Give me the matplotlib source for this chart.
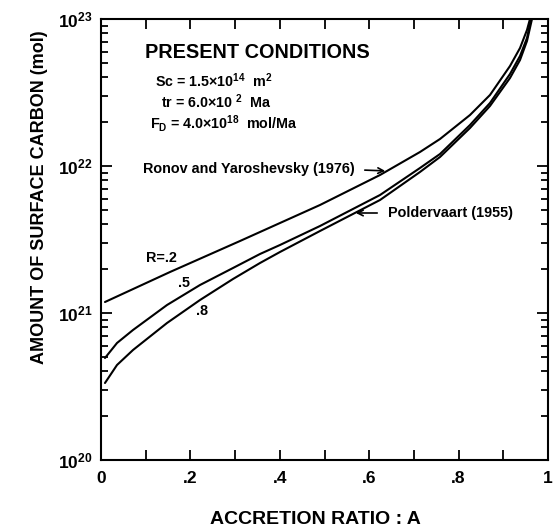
import matplotlib
matplotlib.use("Agg")
import matplotlib.pyplot as plt
from matplotlib.ticker import FixedLocator, FixedFormatter, LogLocator, NullFormatter
import numpy as np

plt.rcParams['font.family'] = ['Liberation Sans', 'DejaVu Sans']
plt.rcParams['font.weight'] = 'bold'
plt.rcParams['mathtext.fontset'] = 'custom'
plt.rcParams['mathtext.rm'] = 'Liberation Sans:bold'
plt.rcParams['mathtext.bf'] = 'Liberation Sans:bold'
plt.rcParams['mathtext.it'] = 'Liberation Sans:bold'
plt.rcParams['mathtext.default'] = 'bf'

# Accretion ratio A (x) and log10 of surface carbon in mol (y)
x_r02 = [0.0089, 0.1544, 0.3110, 0.4004, 0.4899, 0.6242, 0.7136, 0.7584, 0.8255, 0.8702, 0.9150, 0.9374, 0.9530, 0.9597]
log_r02 = [21.0748, 21.2789, 21.4898, 21.6122, 21.7347, 21.9388, 22.0952, 22.1837, 22.3469, 22.4830, 22.6803, 22.8027, 22.9252, 23.0]

x_r05 = [0.0089, 0.0358, 0.0716, 0.1477, 0.2215, 0.2953, 0.3557, 0.4004, 0.4899, 0.6242, 0.7136, 0.7584, 0.8255, 0.8702, 0.9150, 0.9374, 0.9530, 0.9620]
log_r05 = [20.6939, 20.7959, 20.8844, 21.0544, 21.1905, 21.3061, 21.4014, 21.4626, 21.5918, 21.8027, 21.9864, 22.0816, 22.2789, 22.4286, 22.6259, 22.7483, 22.8707, 23.0]

x_r08 = [0.0089, 0.0358, 0.0716, 0.1477, 0.2215, 0.2953, 0.3557, 0.4004, 0.4899, 0.6242, 0.7136, 0.7584, 0.8255, 0.8702, 0.9150, 0.9374, 0.9530, 0.9642]
log_r08 = [20.5238, 20.6463, 20.7483, 20.9320, 21.0884, 21.2313, 21.3401, 21.4150, 21.5578, 21.7687, 21.9592, 22.0612, 22.2585, 22.4082, 22.5986, 22.7211, 22.8503, 23.0]

xticks = [0, 0.2, 0.4, 0.6, 0.8, 1.0]
xticklabels = ['0', '.2', '.4', '.6', '.8', '1']
yticks = [1e20, 1e21, 1e22, 1e23]
yticklabels = [r'$10^{20}$', r'$10^{21}$', r'$10^{22}$', r'$10^{23}$']

fig = plt.figure(figsize=(5.59, 5.30), dpi=100)
ax = fig.add_axes([101/559, 1-460/530, 447/559, 441/530])

for xs, ls in [(x_r02, log_r02), (x_r05, log_r05), (x_r08, log_r08)]:
    ax.plot(xs, 10**np.array(ls), color='black', lw=1.5,
            solid_joinstyle='round', solid_capstyle='round')

ax.set_yscale('log')
ax.set_xlim(0, 1)
ax.set_ylim(1e20, 1e23)

ax.xaxis.set_major_locator(FixedLocator(xticks))
ax.xaxis.set_major_formatter(FixedFormatter(xticklabels))
ax.xaxis.set_minor_locator(FixedLocator([0.1, 0.3, 0.5, 0.7, 0.9]))
ax.yaxis.set_major_locator(FixedLocator(yticks))
ax.yaxis.set_major_formatter(FixedFormatter(yticklabels))
ax.yaxis.set_minor_locator(LogLocator(base=10, subs=np.arange(2, 10)))
ax.yaxis.set_minor_formatter(NullFormatter())

ax.tick_params(axis='both', which='both', direction='in', top=True, right=True, width=1.3)
ax.tick_params(axis='x', which='both', length=7, pad=8, labelsize=12.5)
ax.tick_params(axis='y', which='major', length=8, pad=6, labelsize=12.5)
ax.tick_params(axis='y', which='minor', length=5)
for s in ax.spines.values():
    s.set_linewidth(1.5)

ax.set_xlabel('ACCRETION RATIO : A', fontsize=14, fontweight='bold')
ax.set_ylabel('AMOUNT OF SURFACE CARBON (mol)', fontsize=13, fontweight='bold')
ax.xaxis.set_label_coords(0.479, (460 - 519) / 441)
ax.xaxis.label.set_va('center')
ax.yaxis.set_label_coords((40 - 101) / 447, (460 - 197) / 441)
ax.yaxis.label.set_va('center')

def fx(px):
    return (px - 101) / 447

def fy(py):
    return 10 ** (23 - (py - 19) / 147)

ax.text(fx(145), fy(53), 'PRESENT CONDITIONS', fontsize=14.3, fontweight='bold', va='center', ha='left')
ax.text(fx(155), fy(81), r'Sc = 1.5$\times$10$^{14}$  m$^2$', fontsize=10.3, va='center', ha='left')
ax.text(fx(161), fy(102), r'tr = 6.0$\times$10 $^2$  Ma', fontsize=10.3, va='center', ha='left')
ax.text(fx(150), fy(124), r'F$_D$ = 4.0$\times$10$^{18}$  mol/Ma', fontsize=10.3, va='center', ha='left')

ax.text(fx(143), fy(169), 'Ronov and Yaroshevsky (1976)', fontsize=10.4, va='center', ha='left')
ax.annotate('', xy=(fx(388), fy(171)), xytext=(fx(362), fy(170)),
            arrowprops=dict(arrowstyle='->', lw=1.2, color='black'))
ax.text(fx(388), fy(213), 'Poldervaart (1955)', fontsize=10.4, va='center', ha='left')
ax.annotate('', xy=(fx(353), fy(213)), xytext=(fx(380), fy(213)),
            arrowprops=dict(arrowstyle='->', lw=1.2, color='black'))

ax.text(fx(146), fy(258), 'R=.2', fontsize=10.4, va='center', ha='left')
ax.text(fx(178), fy(283), '.5', fontsize=10.4, va='center', ha='left')
ax.text(fx(196), fy(311), '.8', fontsize=10.4, va='center', ha='left')

fig.savefig('out.png', dpi=100)
